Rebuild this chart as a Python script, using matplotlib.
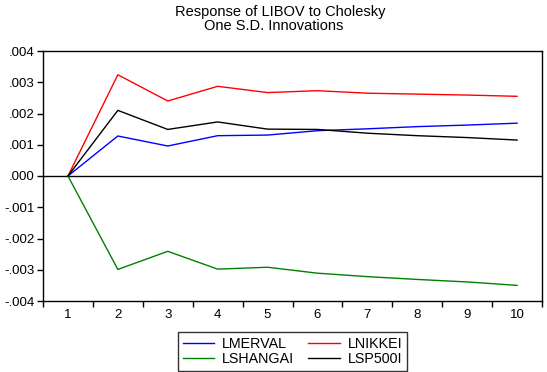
import matplotlib
matplotlib.use("Agg")
import matplotlib.pyplot as plt
from matplotlib.ticker import FuncFormatter, FixedLocator, NullFormatter

periods = [1, 2, 3, 4, 5, 6, 7, 8, 9, 10]
lmerval = [0.0, 0.00128, 0.00096, 0.00129, 0.00131, 0.00145, 0.00151, 0.00158, 0.00163, 0.00169]
lnikkei = [0.0, 0.00324, 0.00240, 0.00287, 0.00267, 0.00273, 0.00265, 0.00262, 0.00259, 0.00255]
lshangai = [0.0, -0.00299, -0.00241, -0.00298, -0.00292, -0.00311, -0.00322, -0.00331, -0.00339, -0.00350]
lsp500i = [0.0, 0.00210, 0.00149, 0.00173, 0.00150, 0.00149, 0.00137, 0.00129, 0.00123, 0.00115]

plt.rcParams['font.family'] = ['Liberation Sans', 'DejaVu Sans']

fig = plt.figure(figsize=(5.47, 3.72), dpi=100)
ax = fig.add_axes([43/547, 1 - 301/372, (542-43)/547, (301-51)/372])

l1, = ax.plot(periods, lmerval, color='#0000ff', lw=1, label='LMERVAL')
l2, = ax.plot(periods, lnikkei, color='#ff0000', lw=1, label='LNIKKEI')
l3, = ax.plot(periods, lshangai, color='#008000', lw=1, label='LSHANGAI')
l4, = ax.plot(periods, lsp500i, color='#000000', lw=1, label='LSP500I')
ax.axhline(0, color='black', lw=1, zorder=1)

ax.set_xlim(0.5, 10.5)
ax.set_ylim(-0.004, 0.004)
ax.set_yticks([-0.004, -0.003, -0.002, -0.001, 0, 0.001, 0.002, 0.003, 0.004])

def yfmt(v, pos):
    s = f"{v:.3f}"
    s = s.replace("0.", ".")
    if s == "-.000":
        s = ".000"
    return s
ax.yaxis.set_major_formatter(FuncFormatter(yfmt))

ax.xaxis.set_major_locator(FixedLocator([x + 0.5 for x in range(0, 11)]))
ax.xaxis.set_major_formatter(NullFormatter())
ax.xaxis.set_minor_locator(FixedLocator(periods))
ax.xaxis.set_minor_formatter(FuncFormatter(lambda v, p: str(int(round(v)))))
ax.tick_params(axis='x', which='minor', length=0, labelsize=9.5, pad=6, colors='black')
ax.tick_params(axis='x', which='major', length=4, width=1, direction='out')
ax.tick_params(axis='y', length=4, width=1, direction='out', labelsize=9.5, pad=2)
for s in ax.spines.values():
    s.set_linewidth(1)

fig.text(280/547, 1 - 12/372, "Response of LIBOV to Cholesky",
         ha='center', va='center', fontsize=10.5)
fig.text(274/547, 1 - 26/372, "One S.D. Innovations",
         ha='center', va='center', fontsize=10.5)

leg = fig.legend([l1, l3, l2, l4], ['LMERVAL', 'LSHANGAI', 'LNIKKEI', 'LSP500I'],
                 ncol=2, loc='center', bbox_to_anchor=(292.5/547, 1 - 351.5/372),
                 fontsize=10.3, frameon=True, fancybox=False, edgecolor='black',
                 handlelength=2.2, columnspacing=1.0, borderpad=0.35, labelspacing=0.05,
                 handletextpad=0.55, borderaxespad=0)
leg.get_frame().set_linewidth(1)

fig.savefig("out.png", dpi=100)
